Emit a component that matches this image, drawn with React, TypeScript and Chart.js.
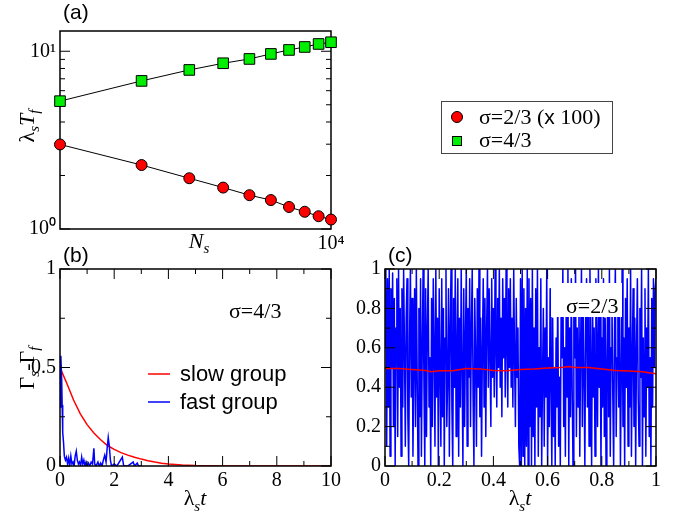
import React, { useEffect, useRef } from 'react';
import { Chart, registerables } from 'chart.js';

Chart.register(...registerables);

const SERIF = '"Liberation Serif","Times New Roman",Times,serif';
const SANS = '"Liberation Sans",Arial,Helvetica,sans-serif';

// ---------- Panel (a) data ----------
const nsValues = [1000, 2000, 3000, 4000, 5000, 6000, 7000, 8000, 9000, 10000];
const tfSigma23x100 = [2.99, 2.29, 1.93, 1.71, 1.55, 1.455, 1.33, 1.25, 1.18, 1.13];
const tfSigma43 = [5.24, 6.81, 7.85, 8.56, 9.05, 9.66, 10.17, 10.57, 10.99, 11.24];
const aYLabelValues = [1, 10];
const aYLabels = ['10\u2070', '10\u00B9'];
const aXLabelValues = [10000];
const aXLabels = ['10\u2074'];
const aYMinorTicks = [2, 3, 4, 5, 6, 7, 8, 9];
const aYMajorTicks = [1, 10];

// ---------- Panel (b) data ----------
const slowTimesB = [0, 0.25, 0.5, 0.75, 1, 1.25, 1.5, 1.75, 2, 2.25, 2.5, 2.75, 3, 3.25, 3.5, 3.75, 4, 4.5, 5, 5.5, 6, 7, 8, 9, 10];
const slowValuesB = [0.5, 0.42, 0.335, 0.265, 0.21, 0.168, 0.133, 0.104, 0.084, 0.068, 0.055, 0.044, 0.035, 0.027, 0.02, 0.014, 0.01, 0.005, 0.002, 0.001, 0.0005, 0.0003, 0.0002, 0.0001, 0.0001];
const fastTimesB = [0, 0.03, 0.06, 0.08, 0.1, 0.13, 0.16, 0.2, 0.24, 0.28, 0.32, 0.36, 0.4, 0.44, 0.48, 0.52, 0.56, 0.6, 0.64, 0.68, 0.72, 0.76, 0.8, 0.84, 0.88, 0.92, 0.96, 1.0, 1.05, 1.1, 1.15, 1.2, 1.25, 1.28, 1.33, 1.4, 1.45, 1.5, 1.55, 1.6, 1.65, 1.7, 1.74, 1.78, 1.82, 1.86, 1.9, 2.0, 2.1, 2.3, 2.35, 2.5, 2.7, 2.75, 2.85, 2.9, 3.0];
const fastValuesB = [0.3, 0.56, 0.45, 0.31, 0.17, 0.12, 0.05, 0.03, 0.045, 0.01, 0.04, 0.0, 0.05, 0.01, 0.02, 0.0, 0.05, 0.075, 0.03, 0.01, 0.02, 0.0, 0.045, 0.01, 0.03, 0.0, 0.02, 0.0, 0.015, 0.0, 0.02, 0.01, 0.09, 0.01, 0.0, 0.02, 0.0, 0.015, 0.0, 0.03, 0.055, 0.02, 0.09, 0.145, 0.1, 0.03, 0.0, 0.01, 0.0, 0.045, 0.0, 0.0, 0.02, 0.0, 0.015, 0.0, 0.0];
const bXMajor = [0, 2, 4, 6, 8, 10];
const bXMinor = [1, 3, 5, 7, 9];
const bYMajor = [0, 0.5, 1];
const bYMinor = [0.25, 0.75];

// ---------- Panel (c) data ----------
const fastValuesC = [
  0.6, 1.0, 0.1, 0.95, 0.3, 1.0, 0.05, 0.9, 0.5, 0.98, 0.2, 0.85, 0.0, 0.7, 0.95, 0.15, 1.0, 0.4, 0.8, 0.05,
  0.9, 0.3, 1.0, 0.6, 0.1, 0.75, 0.95, 0.25, 0.0, 0.65, 1.0, 0.35, 0.85, 0.05, 0.5, 0.9, 0.2, 1.0, 0.45, 0.0,
  0.8, 0.25, 0.95, 0.05, 0.6, 1.0, 0.4, 0.0, 0.9, 0.15, 0.7, 1.0, 0.3, 0.55, 0.0, 0.85, 0.2, 0.95, 0.6, 0.1,
  1.0, 0.35, 0.75, 0.0, 0.9, 0.5, 0.1, 0.95, 0.25, 0.8, 0.0, 0.65, 1.0, 0.2, 0.45, 0.9, 0.05, 0.7, 1.0, 0.3,
  0.0, 0.85, 0.4, 1.0, 0.15, 0.6, 0.95, 0.05, 0.75, 0.3, 1.0, 0.5, 0.0, 0.9, 0.2, 0.65, 1.0, 0.1, 0.8, 0.45,
  0.95, 0.2, 0.7, 1.0, 0.35, 0.0, 0.85, 0.55, 0.1, 0.9, 0.4, 1.0, 0.25, 0.75, 0.05, 0.6, 0.95, 0.3, 0.85, 0.15,
  0.7, 1.0, 0.4, 0.9, 0.55, 0.2, 0.95, 0.45, 0.8, 0.35, 1.0, 0.6, 0.3, 0.85, 0.5, 1.0, 0.4, 0.75, 0.25, 0.95,
  0.55, 0.85, 0.35, 1.0, 0.6, 0.3, 0.9, 0.5, 0.95, 0.4, 0.75, 0.3, 1.0, 0.55, 0.2, 0.85, 0.45, 0.7, 0.1, 0.0,
  0.95, 0.0, 1.0, 0.05, 0.9, 0.0, 0.8, 0.1, 1.0, 0.0, 0.95, 0.2, 0.85, 0.0, 1.0, 0.15, 0.7, 0.0, 0.9, 0.3,
  1.0, 0.05, 0.6, 0.25, 0.95, 0.0, 0.45, 0.8, 0.1, 0.7, 0.35, 1.0, 0.0, 0.55, 0.2, 0.9, 0.4, 0.0, 0.75, 0.15,
  0.5, 0.0, 0.65, 0.3, 0.9, 0.1, 0.45, 0.0, 0.8, 0.55, 1.0, 0.2, 0.6, 0.05, 0.85, 0.35, 1.0, 0.0, 0.7, 0.25,
  0.95, 0.4, 0.0, 0.8, 0.55, 1.0, 0.15, 0.7, 0.3, 0.9, 0.05, 0.6, 1.0, 0.2, 0.85, 0.45, 0.0, 0.75, 0.95, 0.3,
  0.8, 0.1, 1.0, 0.5, 0.0, 0.9, 0.35, 0.7, 0.05, 0.95, 0.6, 0.2, 1.0, 0.4, 0.85, 0.0, 0.65, 0.3, 0.95, 0.15,
  0.75, 0.0, 0.5, 0.9, 0.25, 1.0, 0.05, 0.6, 0.85, 0.35, 0.0, 0.7, 1.0, 0.15, 0.55, 0.9, 0.3, 0.8, 0.0, 0.45,
  1.0, 0.2, 0.65, 0.0, 0.85, 0.4, 0.95, 0.1, 0.7, 0.3, 1.0, 0.05, 0.55, 0.9, 0.2, 0.75, 0.0, 0.6, 0.95, 0.35,
  0.1, 0.8, 0.45, 1.0, 0.0, 0.65, 0.25, 0.9, 0.05, 0.7, 0.4, 1.0, 0.15, 0.55, 0.0, 0.85, 0.3, 0.95, 0.5, 0.9, 0.95,
];
const slowTimesC = [0, 0.05, 0.1, 0.15, 0.17, 0.2, 0.25, 0.3, 0.35, 0.4, 0.45, 0.5, 0.55, 0.6, 0.65, 0.68, 0.7, 0.75, 0.8, 0.85, 0.9, 0.95, 1.0];
const slowValuesC = [0.495, 0.495, 0.49, 0.485, 0.478, 0.483, 0.484, 0.495, 0.493, 0.485, 0.483, 0.49, 0.492, 0.497, 0.5, 0.505, 0.5, 0.5, 0.492, 0.485, 0.482, 0.478, 0.468];
const cMajor = [0, 0.2, 0.4, 0.6, 0.8, 1];
const cMinor = [0.1, 0.3, 0.5, 0.7, 0.9];

// ---------- helpers ----------
type Seg = { t: string; f: string; dy?: number };

function rich(ctx: CanvasRenderingContext2D, segs: Seg[], x: number, y: number, rot = 0, align: 'center' | 'left' = 'center') {
  ctx.save();
  ctx.translate(x, y);
  ctx.rotate(rot);
  ctx.textBaseline = 'alphabetic';
  ctx.textAlign = 'left';
  ctx.fillStyle = '#000';
  let total = 0;
  const ws = segs.map((s) => {
    ctx.font = s.f;
    const w = ctx.measureText(s.t).width;
    total += w;
    return w;
  });
  let cx = align === 'center' ? -total / 2 : 0;
  segs.forEach((s, i) => {
    ctx.font = s.f;
    ctx.fillText(s.t, cx, s.dy || 0);
    cx += ws[i];
  });
  ctx.restore();
}

const UP22 = `22px ${SERIF}`;
const IT22 = `italic 22px ${SERIF}`;
const IT15 = `italic 15px ${SERIF}`;
const SER22 = `22px ${SERIF}`;
const SANS22 = `22px ${SANS}`;
const SANS21 = `21px ${SANS}`;

type TickSpec = { xMajor: number[]; xMinor: number[]; yMajor: number[]; yMinor: number[] };

function framePlugin(spec: TickSpec, beforeData: boolean, extra: (ctx: CanvasRenderingContext2D, chart: any) => void) {
  const drawFrame = (chart: any) => {
    const { ctx, chartArea: a, scales } = chart;
    const xs = scales.x;
    const ys = scales.y;
    ctx.save();
    ctx.strokeStyle = '#000';
    ctx.lineWidth = 1;
    const seg = (x1: number, y1: number, x2: number, y2: number) => {
      ctx.beginPath();
      ctx.moveTo(x1, y1);
      ctx.lineTo(x2, y2);
      ctx.stroke();
    };
    const MAJ = 10;
    const MIN = 5;
    const doX = (vals: number[], len: number) =>
      vals.forEach((v) => {
        const p = xs.getPixelForValue(v);
        seg(p, a.bottom, p, a.bottom - len);
        seg(p, a.top, p, a.top + len);
      });
    const doY = (vals: number[], len: number) =>
      vals.forEach((v) => {
        const p = ys.getPixelForValue(v);
        seg(a.left, p, a.left + len, p);
        seg(a.right, p, a.right - len, p);
      });
    doX(spec.xMajor, MAJ);
    doX(spec.xMinor, MIN);
    doY(spec.yMajor, MAJ);
    doY(spec.yMinor, MIN);
    ctx.lineWidth = 1.5;
    ctx.strokeRect(a.left, a.top, a.right - a.left, a.bottom - a.top);
    ctx.restore();
  };
  return {
    id: 'frameTicks',
    beforeDatasetsDraw(chart: any) {
      if (beforeData) drawFrame(chart);
    },
    afterDraw(chart: any) {
      if (!beforeData) drawFrame(chart);
      extra(chart.ctx, chart);
    },
  };
}

const tickFont = { family: SERIF, size: 20 };
const numFmt = (v: number) => String(Number(Number(v).toFixed(2)));

function yAxis(extra: any) {
  return {
    grid: { display: false, drawTicks: false },
    border: { display: false },
    afterFit: (s: any) => {
      s.width = 50;
    },
    ...extra,
    ticks: { color: '#000', font: tickFont, padding: 4, autoSkip: false, ...(extra.ticks || {}) },
  };
}

function xAxis(extra: any) {
  return {
    grid: { display: false, drawTicks: false },
    border: { display: false },
    afterFit: (s: any) => {
      s.height = 30;
    },
    ...extra,
    ticks: { color: '#000', font: tickFont, padding: 3, autoSkip: false, maxRotation: 0, ...(extra.ticks || {}) },
  };
}

const baseOpts = {
  responsive: false,
  animation: false as const,
  devicePixelRatio: 1,
  events: [] as any[],
  plugins: { legend: { display: false }, tooltip: { enabled: false }, title: { display: false } },
};

function configA(): any {
  return {
    type: 'line',
    data: {
      datasets: [
        {
          data: nsValues.map((x, i) => ({ x, y: tfSigma23x100[i] })),
          borderColor: '#000',
          borderWidth: 1,
          pointStyle: 'circle',
          pointRadius: 5.5,
          pointBackgroundColor: '#ff0000',
          pointBorderColor: '#000',
          pointBorderWidth: 1,
          clip: false,
        },
        {
          data: nsValues.map((x, i) => ({ x, y: tfSigma43[i] })),
          borderColor: '#000',
          borderWidth: 1,
          pointStyle: 'rect',
          pointRadius: 7.5,
          pointBackgroundColor: '#00ee00',
          pointBorderColor: '#000',
          pointBorderWidth: 1,
          clip: false,
        },
      ],
    },
    options: {
      ...baseOpts,
      layout: { padding: { left: 10, right: 359, top: 31, bottom: 256 } },
      scales: {
        x: xAxis({
          type: 'logarithmic',
          min: 1000,
          max: 10000,
          ticks: {
            callback: (v: number) => {
              const i = aXLabelValues.indexOf(v);
              return i >= 0 ? aXLabels[i] : '';
            },
          },
        }),
        y: yAxis({
          type: 'logarithmic',
          min: 1,
          max: 13,
          ticks: {
            callback: (v: number) => {
              const i = aYLabelValues.indexOf(v);
              return i >= 0 ? aYLabels[i] : '';
            },
          },
        }),
      },
    },
    plugins: [
      framePlugin({ xMajor: [], xMinor: [], yMajor: aYMajorTicks, yMinor: aYMinorTicks }, true, (ctx) => {
        rich(ctx, [{ t: '(a)', f: SANS21 }], 63, 19, 0, 'left');
        rich(ctx, [{ t: 'N', f: IT22 }, { t: 's', f: IT15, dy: 5 }], 199, 248);
        rich(
          ctx,
          [
            { t: '\u03BB', f: UP22 },
            { t: 's', f: IT15, dy: 5 },
            { t: 'T', f: IT22 },
            { t: 'f', f: IT15, dy: 5 },
          ],
          34,
          126,
          -Math.PI / 2,
        );
        // legend
        ctx.save();
        ctx.strokeStyle = '#444';
        ctx.lineWidth = 1;
        ctx.strokeRect(441.5, 101.5, 171, 52);
        ctx.beginPath();
        ctx.arc(457, 117, 5.5, 0, Math.PI * 2);
        ctx.fillStyle = '#ff0000';
        ctx.fill();
        ctx.strokeStyle = '#000';
        ctx.stroke();
        ctx.fillStyle = '#00ee00';
        ctx.fillRect(452.5, 136.5, 9, 9);
        ctx.strokeRect(452.5, 136.5, 9, 9);
        ctx.restore();
        rich(ctx, [{ t: '\u03C3=2/3 (', f: SER22 }, { t: 'x', f: `21px ${SANS}` }, { t: ' 100)', f: SER22 }], 479, 124, 0, 'left');
        rich(ctx, [{ t: '\u03C3=4/3', f: SER22 }], 479, 147, 0, 'left');
      }),
    ],
  };
}

function configB(): any {
  return {
    type: 'line',
    data: {
      datasets: [
        {
          data: fastTimesB.map((x, i) => ({ x, y: fastValuesB[i] })),
          borderColor: '#0000ff',
          borderWidth: 1.5,
          pointRadius: 0,
        },
        {
          data: slowTimesB.map((x, i) => ({ x, y: slowValuesB[i] })),
          borderColor: '#ff0000',
          borderWidth: 1.5,
          pointRadius: 0,
        },
      ],
    },
    options: {
      ...baseOpts,
      layout: { padding: { left: 10, right: 359, top: 269, bottom: 19 } },
      scales: {
        x: xAxis({ type: 'linear', min: 0, max: 10, ticks: { stepSize: 2, callback: numFmt } }),
        y: yAxis({ type: 'linear', min: 0, max: 1, ticks: { stepSize: 0.5, callback: numFmt } }),
      },
    },
    plugins: [
      framePlugin({ xMajor: bXMajor, xMinor: bXMinor, yMajor: bYMajor, yMinor: bYMinor }, false, (ctx) => {
        rich(ctx, [{ t: '(b)', f: SANS21 }], 63, 262, 0, 'left');
        rich(ctx, [{ t: '\u03BB', f: UP22 }, { t: 's', f: IT15, dy: 6 }, { t: 't', f: IT22 }], 195, 505);
        rich(
          ctx,
          [
            { t: '\u0393', f: UP22 },
            { t: 's', f: IT15, dy: 5 },
            { t: '-', f: UP22 },
            { t: '\u0393', f: UP22 },
            { t: 'f', f: IT15, dy: 5 },
          ],
          34,
          368,
          -Math.PI / 2,
        );
        rich(ctx, [{ t: '\u03C3=4/3', f: SER22 }], 229, 318, 0, 'left');
        ctx.save();
        ctx.lineWidth = 1.5;
        ctx.strokeStyle = '#ff0000';
        ctx.beginPath();
        ctx.moveTo(148, 374);
        ctx.lineTo(170, 374);
        ctx.stroke();
        ctx.strokeStyle = '#0000ff';
        ctx.beginPath();
        ctx.moveTo(148, 402);
        ctx.lineTo(170, 402);
        ctx.stroke();
        ctx.restore();
        rich(ctx, [{ t: 'slow group', f: SANS22 }], 180, 381, 0, 'left');
        rich(ctx, [{ t: 'fast group', f: SANS22 }], 180, 409, 0, 'left');
      }),
    ],
  };
}

function configC(): any {
  const n = fastValuesC.length;
  return {
    type: 'line',
    data: {
      datasets: [
        {
          data: slowTimesC.map((x, i) => ({ x, y: slowValuesC[i] })),
          borderColor: '#ff0000',
          borderWidth: 1.5,
          pointRadius: 0,
        },
        {
          data: fastValuesC.map((y, i) => ({ x: i / (n - 1), y })),
          borderColor: '#0000ff',
          borderWidth: 1.5,
          borderJoinStyle: 'round',
          pointRadius: 0,
        },
      ],
    },
    options: {
      ...baseOpts,
      layout: { padding: { left: 335, right: 34, top: 269, bottom: 19 } },
      scales: {
        x: xAxis({ type: 'linear', min: 0, max: 1, ticks: { stepSize: 0.2, callback: numFmt } }),
        y: yAxis({ type: 'linear', min: 0, max: 1, ticks: { stepSize: 0.2, callback: numFmt } }),
      },
    },
    plugins: [
      framePlugin({ xMajor: cMajor, xMinor: cMinor, yMajor: cMajor, yMinor: cMinor }, false, (ctx) => {
        rich(ctx, [{ t: '(c)', f: SANS21 }], 388, 262, 0, 'left');
        rich(ctx, [{ t: '\u03BB', f: UP22 }, { t: 's', f: IT15, dy: 6 }, { t: 't', f: IT22 }], 520, 505);
      }),
      {
        id: 'sigmaBox',
        afterDatasetsDraw(chart: any) {
          const ctx = chart.ctx;
          ctx.save();
          ctx.fillStyle = '#fff';
          ctx.fillRect(551, 283, 71, 34);
          ctx.restore();
          rich(ctx, [{ t: '\u03C3=2/3', f: SER22 }], 566, 313, 0, 'left');
        },
      },
    ],
  };
}

export default function App() {
  const ra = useRef<HTMLCanvasElement>(null);
  const rb = useRef<HTMLCanvasElement>(null);
  const rc = useRef<HTMLCanvasElement>(null);
  useEffect(() => {
    const charts = [new Chart(ra.current!, configA()), new Chart(rb.current!, configB()), new Chart(rc.current!, configC())];
    return () => charts.forEach((c) => c.destroy());
  }, []);
  const cs: React.CSSProperties = { position: 'absolute', left: 0, top: 0 };
  return (
    <div style={{ position: 'fixed', left: 0, top: 0, width: 690, height: 515, background: '#fff' }}>
      <canvas ref={ra} width={690} height={515} style={cs} />
      <canvas ref={rb} width={690} height={515} style={cs} />
      <canvas ref={rc} width={690} height={515} style={cs} />
    </div>
  );
}
